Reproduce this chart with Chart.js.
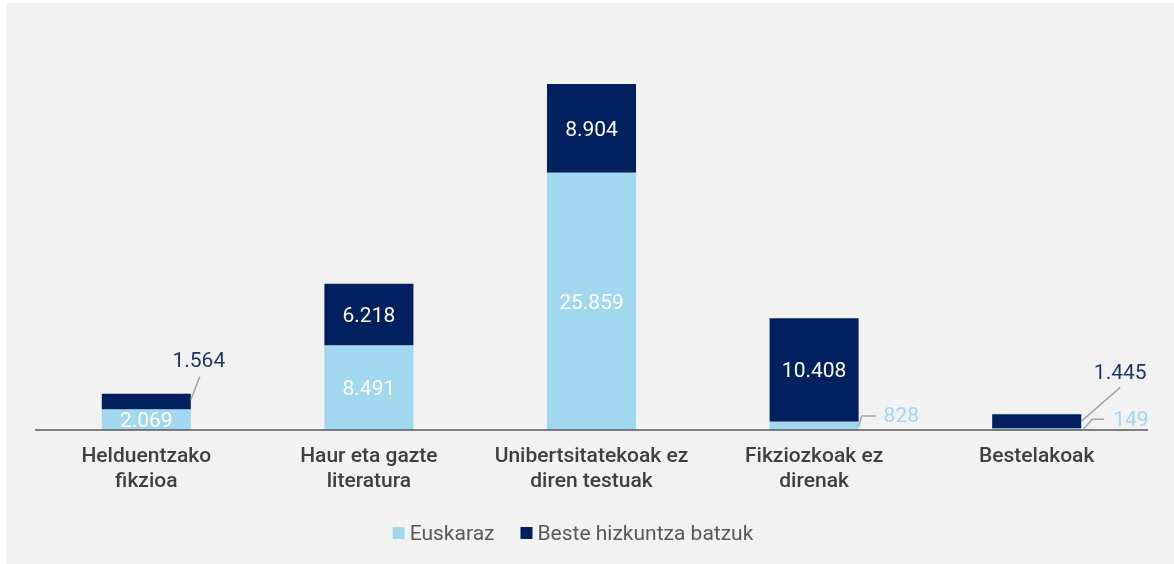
<!DOCTYPE html>
<html>
<head>
<meta charset="utf-8">
<script src="https://cdn.jsdelivr.net/npm/chart.js@4"></script>
<style>
  html, body { margin: 0; padding: 0; background: #fff; }
  #wrap { width: 1174px; height: 564px; }
</style>
</head>
<body>
<div id="wrap"><canvas id="myChart" width="1174" height="564"></canvas></div>
<script>
// data
const categories = [
  ['Helduentzako', 'fikzioa'],
  ['Haur eta gazte', 'literatura'],
  ['Unibertsitatekoak ez', 'diren testuak'],
  ['Fikziozkoak ez', 'direnak'],
  ['Bestelakoak']
];
const euskaraz = [2069, 8491, 25859, 828, 149];
const besteHizkuntzak = [1564, 6218, 8904, 10408, 1445];
const seriesNames = ['Euskaraz', 'Beste hizkuntza batzuk'];

const lightBlue = '#A1D8EF';
const navy = '#002060';

// labels drawn outside the bar, with a leader line (offsets from bar edge)
const outsideLabels = [
  { ds: 1, i: 0, path: [[0, -2], [9, -25]], text: [8, -40], align: 'center', color: '#203864' },
  { ds: 0, i: 3, path: [[0, 1], [3, -10], [17, -10]], text: [25, -9], align: 'left', color: lightBlue },
  { ds: 1, i: 4, path: [[0, 0], [39, -34]], text: [39, -48], align: 'center', color: '#203864' },
  { ds: 0, i: 4, path: [[2, 0], [11, -10], [23, -10]], text: [32, -9], align: 'left', color: lightBlue }
];

function fmt(n) {
  return String(n).replace(/\B(?=(\d{3})+(?!\d))/g, '.');
}

const background = {
  id: 'background',
  beforeDraw(chart) {
    const c = chart.ctx;
    c.save();
    c.fillStyle = '#F2F2F2';
    c.fillRect(6, 3, chart.width - 6, chart.height - 3);
    c.restore();
  }
};

const valueLabels = {
  id: 'valueLabels',
  afterDatasetsDraw(chart) {
    const c = chart.ctx;
    const area = chart.chartArea;
    const base = chart.scales.y.getPixelForValue(0);
    c.save();
    // axis line
    c.strokeStyle = '#595959';
    c.lineWidth = 1.5;
    c.beginPath();
    c.moveTo(area.left, base);
    c.lineTo(area.right, base);
    c.stroke();

    c.font = '21px Roboto';
    c.textBaseline = 'middle';
    chart.data.datasets.forEach((ds, d) => {
      const meta = chart.getDatasetMeta(d);
      meta.data.forEach((bar, i) => {
        const out = outsideLabels.find(o => o.ds === d && o.i === i);
        const cy = (bar.y + bar.base) / 2;
        if (out) {
          const x0 = bar.x + bar.width / 2;
          c.strokeStyle = '#A6A6A6';
          c.lineWidth = 1.5;
          c.beginPath();
          out.path.forEach((p, k) => {
            if (k === 0) c.moveTo(x0 + p[0], cy + p[1]);
            else c.lineTo(x0 + p[0], cy + p[1]);
          });
          c.stroke();
          c.fillStyle = out.color;
          c.textAlign = out.align;
          c.fillText(fmt(ds.data[i]), x0 + out.text[0], cy + out.text[1]);
        } else {
          c.fillStyle = '#FFFFFF';
          c.textAlign = 'center';
          c.fillText(fmt(ds.data[i]), bar.x, cy + 2);
        }
      });
    });

    // legend
    c.font = '21px Roboto';
    c.textAlign = 'left';
    c.textBaseline = 'alphabetic';
    const items = chart.data.datasets.map(ds => ({ text: ds.label, color: ds.backgroundColor }));
    const box = 12, gap = 5, spacing = 26;
    const widths = items.map(it => box + gap + c.measureText(it.text).width);
    const total = widths.reduce((a, b) => a + b, 0) + spacing * (items.length - 1);
    let x = 573 - total / 2;
    items.forEach((it, k) => {
      c.fillStyle = it.color;
      c.fillRect(x, 527, box, box);
      c.fillStyle = '#595959';
      c.fillText(it.text, x + box + gap, 540);
      x += widths[k] + spacing;
    });
    c.restore();
  }
};

let ctx = document.getElementById('myChart');

new Chart(ctx, {
  type: 'bar',
  data: {
    labels: categories,
    datasets: [
      { label: seriesNames[0], data: euskaraz, backgroundColor: lightBlue },
      { label: seriesNames[1], data: besteHizkuntzak, backgroundColor: navy }
    ]
  },
  options: {
    responsive: false,
    animation: false,
    layout: { padding: { left: 35, right: 26, top: 32, bottom: 55.6 } },
    datasets: {
      bar: { categoryPercentage: 1, barPercentage: 0.4 }
    },
    scales: {
      x: {
        stacked: true,
        grid: { display: false, drawTicks: false },
        border: { display: false },
        ticks: {
          color: '#404040',
          font: { family: 'Roboto', size: 21, weight: 500, lineHeight: 1.2 },
          padding: 14,
          maxRotation: 0,
          autoSkip: false
        }
      },
      y: {
        stacked: true,
        display: false,
        min: 0,
        max: 40000
      }
    },
    plugins: {
      legend: { display: false },
      tooltip: { enabled: false }
    }
  },
  plugins: [background, valueLabels]
});
</script>
</body>
</html>
